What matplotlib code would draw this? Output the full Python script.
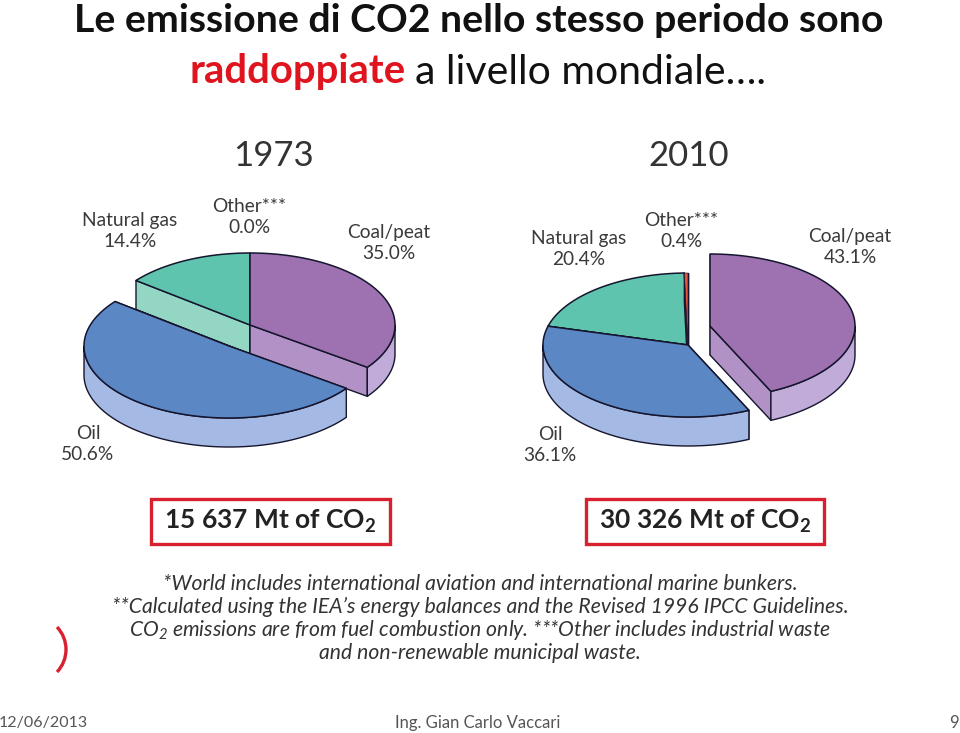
import numpy as np
import matplotlib
matplotlib.use('Agg')
import matplotlib.pyplot as plt
from matplotlib.patches import Polygon, Rectangle, Arc

plt.rcParams['mathtext.default'] = 'regular'

sources_1973 = ['Coal/peat', 'Oil', 'Natural gas', 'Other***']
values_1973 = [35.0, 50.6, 14.4, 0.0]
sources_2010 = ['Coal/peat', 'Oil', 'Natural gas', 'Other***']
values_2010 = [43.1, 36.1, 20.4, 0.4]
totals = ['15 637 Mt of CO$_2$', '30 326 Mt of CO$_2$']

top_col = {'Coal/peat': '#9E72B1', 'Oil': '#5C87C5', 'Natural gas': '#5FC4AD', 'Other***': '#E2533C'}
cut_col = {'Coal/peat': '#B292C6', 'Oil': '#A4B9E3', 'Natural gas': '#93D6C3', 'Other***': '#E2533C'}
rim_col = {'Coal/peat': '#C1ABD8', 'Oil': '#A4B9E3', 'Natural gas': '#93D6C3', 'Other***': '#E2533C'}
edge = '#15152e'
RX, RY, DEPTH = 145, 72, 29


def arc(cx, cy, a0, a1):
    t = np.radians(np.linspace(a0, a1, max(int(abs(a1 - a0)) * 2, 2)))
    return np.column_stack([cx + RX * np.sin(t), cy - RY * np.cos(t)])


def draw_pie(ax, names, values, center, moved, order):
    total = sum(values)
    start = 0
    spans = {}
    for n, v in zip(names, values):
        spans[n] = (start, start + v / total * 360)
        start += v / total * 360
    for n in order:
        a0, a1 = spans[n]
        if a1 - a0 < 0.01:
            continue
        cx, cy = moved.get(n, center)
        rim = arc(cx, cy, a0, a1)
        drop = np.array([0, DEPTH])
        lw = 0.4 if n == 'Other***' else 1.1
        for p in (rim[0], rim[-1]):
            ax.add_patch(Polygon([(cx, cy), p, p + drop, (cx, cy + DEPTH)], fc=cut_col[n], ec=edge, lw=1, joinstyle='round'))
        lo, hi = max(a0, 90), min(a1, 270)
        if hi > lo:
            front = arc(cx, cy, lo, hi)
            ax.add_patch(Polygon(np.vstack([front, front[::-1] + drop]), fc=rim_col[n], ec=edge, lw=1, joinstyle='round'))
        ax.add_patch(Polygon(np.vstack([[(cx, cy)], rim]), fc=top_col[n], ec=edge, lw=lw, joinstyle='round'))


fig = plt.figure(figsize=(9.6, 7.33), dpi=100)
ax = fig.add_axes([0, 0, 1, 1])
ax.set_xlim(0, 960)
ax.set_ylim(733, 0)
ax.axis('off')

# headline
ax.text(479, 21, 'Le emissione di CO2 nello stesso periodo sono', ha='center', va='center', family='Lato', weight='bold', fontsize=28.3, color='#111111')
ax.text(190, 72, 'raddoppiate', ha='left', va='center', family='Lato', weight='bold', fontsize=28.8, color='#E0141E')
ax.text(415, 72, 'a livello mondiale….', ha='left', va='center', family='Lato', fontsize=29.5, color='#111111')

# pies
draw_pie(ax, sources_1973, values_1973, (250, 325), {'Oil': (229, 346)}, ['Natural gas', 'Other***', 'Coal/peat', 'Oil'])
draw_pie(ax, sources_2010, values_2010, (688, 345), {'Coal/peat': (710, 326)}, ['Natural gas', 'Other***', 'Oil', 'Coal/peat'])

ax.text(273, 156, '1973', ha='center', va='center', family='Lato', fontsize=25, color='#333333')
ax.text(689, 156, '2010', ha='center', va='center', family='Lato', fontsize=25, color='#333333')

label_style = dict(ha='center', va='center', family='Lato', fontsize=13.8, color='#3a3a3a', linespacing=1.35)
ax.text(130, 231, f'Natural gas\n{values_1973[2]}%', **label_style)
ax.text(249, 217, f'Other***\n{values_1973[3]}%', **label_style)
ax.text(389, 243, f'Coal/peat\n{values_1973[0]}%', **label_style)
ax.text(88, 444, f'Oil\n{values_1973[1]}%', **label_style)
ax.text(579, 249, f'Natural gas\n{values_2010[2]}%', **label_style)
ax.text(681, 231, f'Other***\n{values_2010[3]}%', **label_style)
ax.text(850, 247, f'Coal/peat\n{values_2010[0]}%', **label_style)
ax.text(550, 445, f'Oil\n{values_2010[1]}%', **label_style)

# totals
for x0, x1, s in zip([151, 586], [390, 824], totals):
    ax.add_patch(Rectangle((x0, 499), x1 - x0, 45, fc='white', ec='#D9202F', lw=2.4))
    ax.text((x0 + x1) / 2, 521, s, ha='center', va='center', family='Lato', weight='bold', fontsize=19, color='#222222')

# notes
notes = ['*World includes international aviation and international marine bunkers.',
         '**Calculated using the IEA’s energy balances and the Revised 1996 IPCC Guidelines.',
         'CO$_2$ emissions are from fuel combustion only. ***Other includes industrial waste',
         'and non-renewable municipal waste.']
for y, s in zip([584, 607, 630, 653], notes):
    ax.text(480, y, s, ha='center', va='center', family='Lato', style='italic', fontsize=15.2, color='#333333')

ax.add_patch(Arc((33.4, 649.5), 65.2, 65.2, theta1=-43.6, theta2=43.6, color='#D9202F', lw=2.4))

# footer
ax.text(-1, 723, '12/06/2013', ha='left', va='center', family='Lato', fontsize=11.5, color='#555555')
ax.text(478, 723, 'Ing. Gian Carlo Vaccari', ha='center', va='center', family='Lato', fontsize=12, color='#555555')
ax.text(959, 723, '9', ha='right', va='center', family='Lato', fontsize=12, color='#555555')

fig.savefig('out.png', dpi=100)
